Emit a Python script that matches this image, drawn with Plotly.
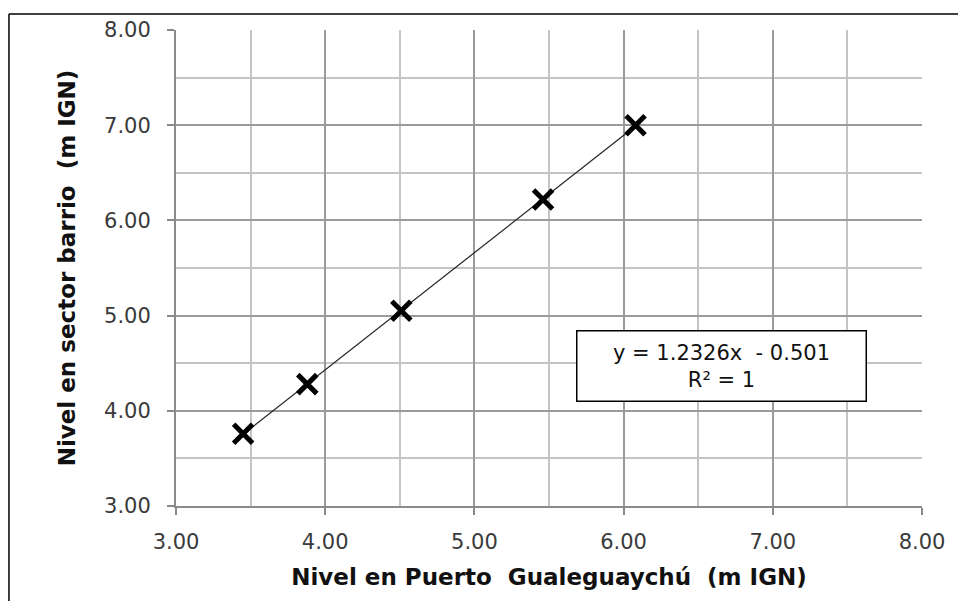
import numpy as np
import plotly.graph_objects as go

# Data
x_puerto = [3.45, 3.88, 4.51, 5.46, 6.08]
y_barrio = [3.76, 4.28, 5.05, 6.22, 7.00]

x_title = "Nivel en Puerto  Gualeguaychú  (m IGN)"
y_title = "Nivel en sector barrio  (m IGN)"
eq_text = "y = 1.2326x  - 0.501<br>R² = 1"

# Trendline (linear fit) across data range
coef = np.polyfit(x_puerto, y_barrio, 1)
xt = [min(x_puerto), max(x_puerto)]
yt = [coef[0] * v + coef[1] for v in xt]

fig = go.Figure()
fig.add_trace(go.Scatter(x=xt, y=yt, mode="lines",
                         line=dict(color="#222222", width=1.2),
                         hoverinfo="skip", showlegend=False))
fig.add_trace(go.Scatter(x=x_puerto, y=y_barrio, mode="markers",
                         marker=dict(symbol="x-thin", size=19,
                                     line=dict(color="black", width=5)),
                         showlegend=False))

axis_common = dict(
    range=[3, 8], dtick=1, tick0=3, tickformat=".2f",
    showgrid=True, gridcolor="#9a9a9a", gridwidth=1.5,
    minor=dict(dtick=0.5, showgrid=True, gridcolor="#c4c4c4", gridwidth=1.5,
               ticks=""),
    showline=True, linecolor="#8a8a8a", linewidth=2,
    ticks="outside", ticklen=7, tickcolor="#8a8a8a", tickwidth=2,
    tickfont=dict(family="DejaVu Sans", size=21, color="#3a3a3a"),
    zeroline=False, fixedrange=True,
)

fig.update_xaxes(**axis_common, ticklabelstandoff=9,
                 title=dict(text=x_title, standoff=16,
                            font=dict(family="DejaVu Sans", size=23, color="#111111",
                                      weight="bold")))
fig.update_yaxes(**axis_common, ticklabelstandoff=12,
                 title=dict(text=y_title, standoff=22,
                            font=dict(family="DejaVu Sans", size=23, color="#111111",
                                      weight="bold")))

fig.add_annotation(x=6.653, y=4.47, xref="x", yref="y", text=eq_text,
                   showarrow=False, align="center",
                   font=dict(family="DejaVu Sans", size=21, color="#111111"),
                   bordercolor="black", borderwidth=1.5, borderpad=9,
                   bgcolor="white", width=270)

# outer frame (left and top edges visible)
fig.add_shape(type="line", xref="paper", yref="paper",
              x0=-0.2239, x1=-0.2239, y0=-0.25, y1=1.0336,
              line=dict(color="black", width=1.5))
fig.add_shape(type="line", xref="paper", yref="paper",
              x0=-0.2239, x1=1.1, y0=1.0336, y1=1.0336,
              line=dict(color="black", width=1.5))

fig.update_layout(
    width=958, height=601,
    margin=dict(l=176, r=36, t=30, b=95),
    plot_bgcolor="white", paper_bgcolor="white",
)

fig.write_html(
    "out.html",
    config={"displayModeBar": False},
    post_script="document.body.style.margin='0';document.body.style.overflow='hidden';",
)
